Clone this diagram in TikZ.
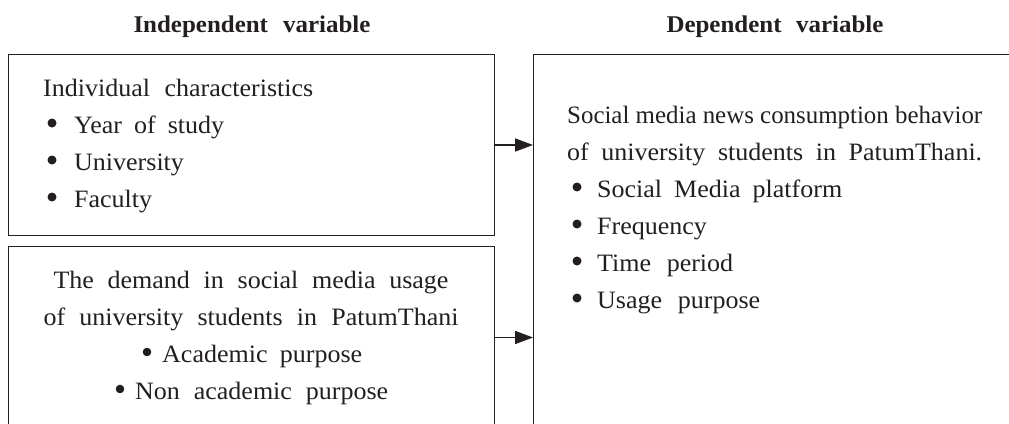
\documentclass[tikz,border=0pt]{standalone}
\usepackage{fontspec}
\usepackage{graphicx}
\setmainfont{Liberation Serif}[FakeStretch=1.04]
\usetikzlibrary{arrows.meta}
\definecolor{ink}{RGB}{35,31,32}
\newcommand{\jline}[2]{\makebox[#1][s]{#2}}
\begin{document}
\begin{tikzpicture}[x=1pt,y=-1pt,
  box/.style={draw=ink,line width=1pt,inner sep=0pt,anchor=north west},
  txt/.style={anchor=base west,inner sep=0pt,text=ink,font=\fontsize{25}{37}\selectfont},
  ctxt/.style={anchor=base,inner sep=0pt,text=ink,font=\fontsize{25}{37}\selectfont},
  ttl/.style={anchor=base,inner sep=0pt,text=ink,font=\fontsize{24}{30}\selectfont\bfseries},
  dot/.style={fill=ink},
  arr/.style={draw=ink,line width=1.6pt,-{Triangle[length=18pt,width=13pt]}}]
\useasboundingbox (0,0) rectangle (1009,423);
\clip (0,0) rectangle (1009,423);
% titles
\node[ttl] (t1) at (252,32) {\jline{237pt}{Independent variable}};
\node[ttl] (t2) at (775,32) {\jline{217pt}{Dependent variable}};
% boxes
\node[box,minimum width=486pt,minimum height=181pt] (box1) at (8,54) {};
\node[box,minimum width=486pt,minimum height=182pt] (box2) at (8,246) {};
\node[box,minimum width=490pt,minimum height=374pt] (rbox) at (533,54) {};
% arrows
\draw[arr] (box1.east) -- (box1.east -| rbox.west);
\draw[arr] (box2.east) -- (box2.east -| rbox.west);
% box 1 text
\node[txt] (a0) at (43,96) {\jline{270pt}{Individual characteristics}};
\node[txt] (a1) at (74,133) {\jline{150pt}{Year of study}};
\node[txt] (a2) at (74,170) {University};
\node[txt] (a3) at (74,207) {Faculty};
\foreach \n in {a1,a2,a3} \fill[dot] ([xshift=-22pt,yshift=10pt]\n.base west) circle (4.5pt);
% box 2 text
\node[ctxt] (b0) at (251,288) {\jline{395pt}{The demand in social media usage}};
\node[ctxt] (b1) at (251,325) {\jline{415pt}{of university students in PatumThani}};
\node[txt] (b2) at (162,362) {\jline{200pt}{Academic purpose}};
\node[txt] (b3) at (135,399) {\jline{253pt}{Non academic purpose}};
\foreach \n in {b2,b3} \fill[dot] ([xshift=-15pt,yshift=10pt]\n.base west) circle (4.3pt);
% right box text
\node[txt] (c0) at (567,123) {\resizebox{415pt}{\height}{Social media news consumption behavior}};
\node[txt] (c1) at (567,160) {\jline{415pt}{of university students in PatumThani.}};
\node[txt] (c2) at (597,197) {\jline{245pt}{Social Media platform}};
\node[txt] (c3) at (597,234) {Frequency};
\node[txt] (c4) at (597,271) {\jline{136pt}{Time period}};
\node[txt] (c5) at (597,308) {\jline{163pt}{Usage purpose}};
\foreach \n in {c2,c3,c4,c5} \fill[dot] ([xshift=-20pt,yshift=10pt]\n.base west) circle (4.5pt);
\end{tikzpicture}
\end{document}
